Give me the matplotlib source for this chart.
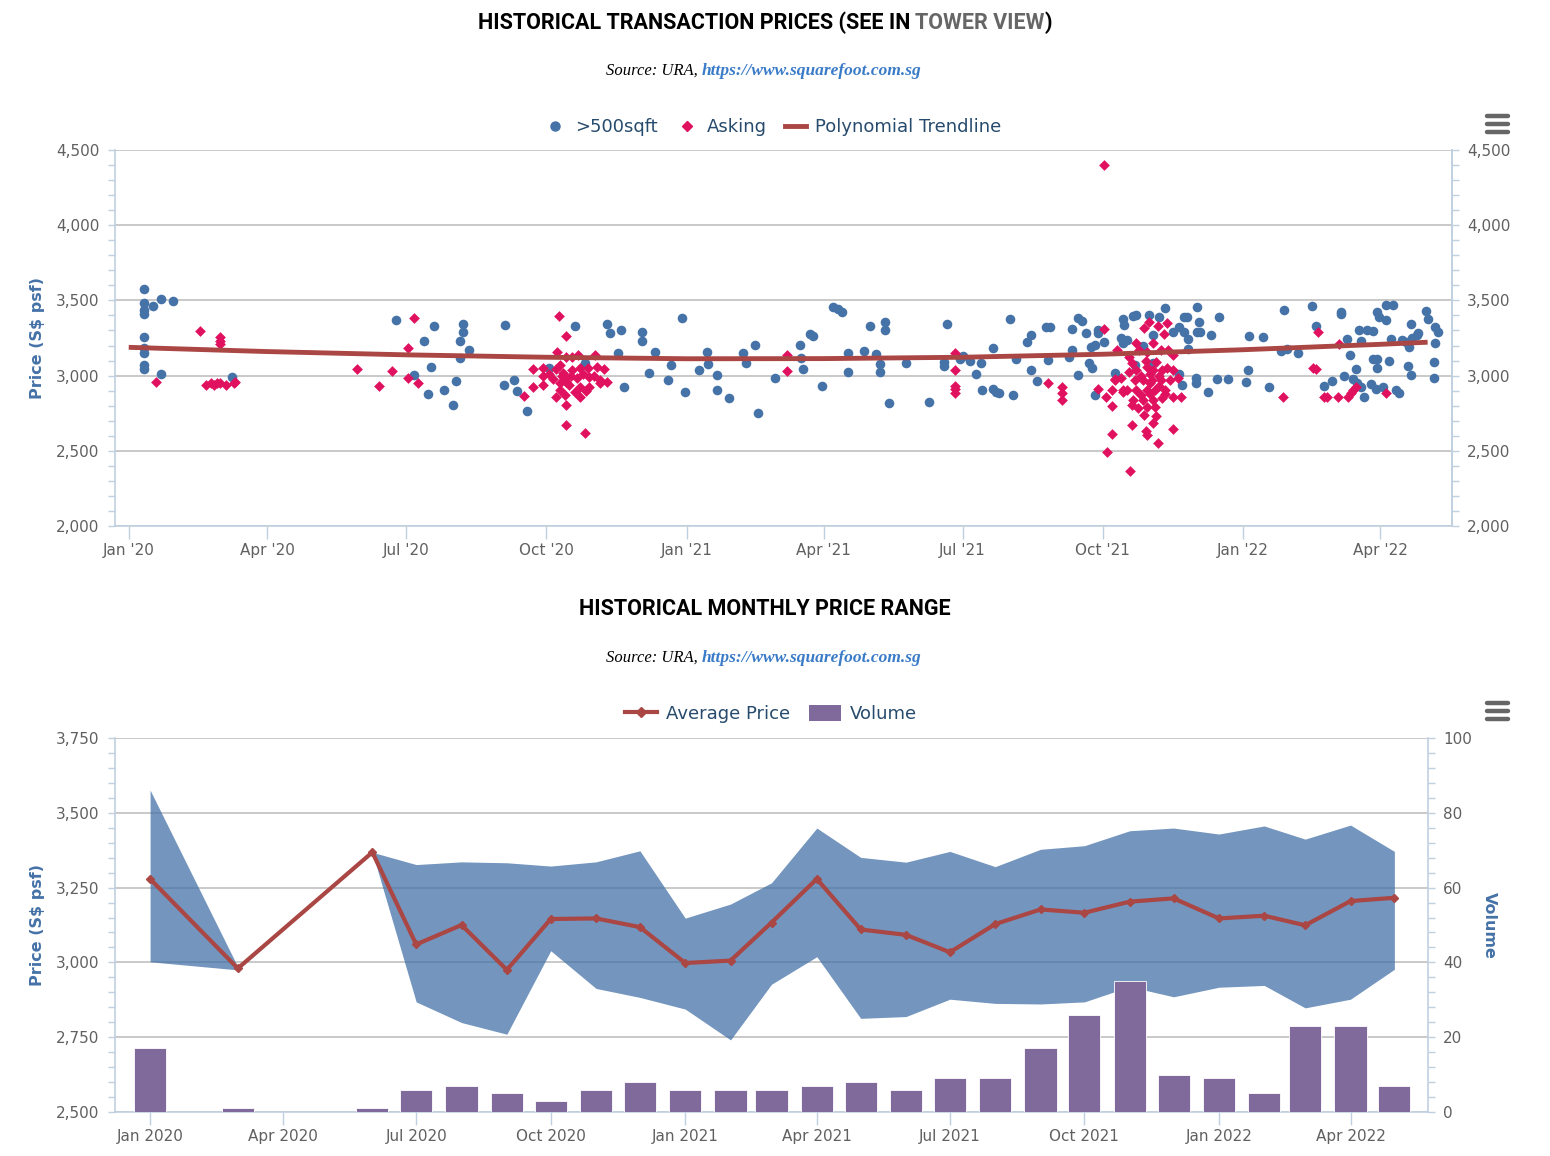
import numpy as np
import matplotlib
matplotlib.use('Agg')
import matplotlib.pyplot as plt
import matplotlib.dates as mdates
from matplotlib.ticker import FuncFormatter, MultipleLocator
from matplotlib.lines import Line2D
from matplotlib.patches import Patch
import pandas as pd

# ---------------- data (top chart: days since 2020-01-01, price S$ psf) ----------------
blue_day = [10, 10, 16, 21, 29, 10, 10, 10, 10, 10, 10, 10, 21, 68,
            175, 200, 194, 219, 219, 217, 223, 217, 198, 187, 196, 207, 213, 215, 247, 246, 253, 255, 261, 276,
            293, 299, 314, 316, 323, 321, 325, 337, 337, 345, 341, 356, 354, 365, 363, 374,
            379, 380, 386, 386, 394, 403, 405, 411, 413, 424, 440, 441, 442, 447, 449, 455, 462, 465, 468, 472,
            472, 482, 486, 490, 493, 493, 496, 496, 499, 510, 525, 537, 535, 535, 545, 547, 552, 559, 556, 567,
            560, 567, 569,
            571, 580, 578, 582, 589, 592, 592, 596, 602, 604, 603, 617, 619, 619, 623, 625, 628, 623, 630, 632,
            631, 634, 636, 636, 640, 634, 647, 652, 653, 659, 661, 651, 652, 655, 660, 665, 669, 676, 680, 672,
            672, 685, 689, 692, 694, 692, 702, 701, 701, 703, 695, 695, 689, 691, 700, 700, 708, 710, 714, 721, 715,
            758, 776, 795, 795, 779, 735, 744, 756, 760, 767, 734, 733, 748, 784, 789, 797, 805, 801, 799, 808,
            807, 812, 816, 816, 819, 819, 827, 828, 819, 820, 825, 825, 829, 803, 806, 808, 810, 815, 818, 823,
            831, 833, 839, 841, 835, 838, 842, 845, 846, 840, 841, 851, 852, 857, 859, 857, 856, 856]
blue_price = [3576, 3483, 3463, 3509, 3496, 3436, 3410, 3257, 3184, 3150, 3070, 3044, 3011, 2991,
              3370, 3330, 3230, 3343, 3290, 3230, 3170, 3117, 3057, 3004, 2878, 2904, 2805, 2964, 3336, 2938, 2971, 2898, 2765, 3051,
              3330, 3084, 3343, 3283, 3303, 3150, 2924, 3290, 3230, 3157, 3017, 3070, 2971, 2891, 3383, 3037,
              3157, 3077, 3004, 2904, 2851, 3150, 3084, 3203, 2751, 2984, 3203, 3117, 3044, 3277, 3263, 2931, 3456, 3443, 3423, 3150,
              3024, 3164, 3330, 3144, 3077, 3024, 3356, 3303, 2818, 3084, 2825, 3343, 3090, 3064, 3110, 3130, 3097, 3084, 3011, 3184,
              2904, 2911, 2891,
              2884, 2871, 3376, 3110, 3223, 3270, 3037, 2964, 3323, 3323, 3104, 3124, 3170, 3310, 3383, 3363, 3283, 3004, 3084, 3051,
              3190, 3203, 3303, 3283, 3223, 2871, 3017, 3376, 3336, 3396, 3403, 3250, 3217, 3237, 3070, 3197, 3403, 3390, 3450, 3270,
              3084, 3290, 3323, 3390, 3390, 3290, 3356, 3456, 3290, 3290, 3243, 3177, 3011, 2938, 2984, 2951, 2891, 3270, 2977, 2977, 3390,
              3436, 3463, 3423, 3410, 3330, 3263, 3257, 3164, 3177, 3150, 3037, 2957, 2924, 2931, 2964, 2997, 3044, 3137, 3243, 3230,
              3303, 3303, 3297, 3110, 3110, 3051, 3097, 3243, 3423, 3390, 3370, 3469, 3469, 2977, 2951, 2924, 2858, 2944, 2911, 2924,
              2904, 2884, 3064, 3004, 3237, 3223, 3250, 3270, 3283, 3190, 3343, 3430, 3376, 3323, 3290, 3217, 3090, 2984]

ask_day = [18, 47, 60, 60, 60, 51, 56, 60, 64, 69, 70, 54, 58,
           150, 164, 173, 183, 187, 183, 190, 259,
           282, 287, 281, 265, 265, 272, 272, 272, 280, 283, 287, 291, 295, 306, 287, 291, 296, 301, 307, 312,
           283, 287, 294, 302, 309, 314, 283, 286, 296, 302, 309, 280, 296, 287, 287, 299, 276, 285, 290, 298,
           305, 278, 289, 293, 300, 284,
           432, 432, 542, 542, 542, 542, 542,
           603, 612, 612, 612, 640, 640, 642, 636, 641, 645, 645, 657, 648, 647, 651, 645, 656, 658, 661, 656, 652,
           666, 669, 675, 681, 679, 672, 663, 668, 677, 682,
           685, 658, 661, 668, 672, 678, 681, 685, 660, 665,
           671, 677, 683, 688, 655, 661, 668, 673, 680, 685,
           659, 665, 672, 678, 662, 668, 673, 666, 674, 672,
           667, 668, 675, 685, 647, 652, 658,
           664, 670, 676, 670, 676, 664, 670, 680, 667, 674,
           690, 780, 794, 777, 779, 757, 784, 786, 793, 800, 802, 803, 805, 825]
ask_price = [2957, 3297, 3257, 3230, 3210, 2938, 2938, 2951, 2938, 2951, 2957, 2951, 2951,
             3044, 2931, 3031, 3184, 3383, 2984, 2951, 2864,
             3396, 3263, 3157, 3044, 2924, 3051, 2997, 2938, 3044, 3070, 3124, 3124, 3137, 3137, 2991, 3037, 3051, 3051, 3057, 3044,
             2951, 2957, 2984, 2991, 2971, 2957, 2904, 2871, 2924, 2924, 2951, 2858, 2858, 2805, 2672, 2618, 3010, 3020, 3000, 3010,
             3000, 2980, 2940, 2890, 2900, 3000,
             3137, 3031, 3150, 3037, 2931, 2911, 2884,
             2951, 2924, 2884, 2838, 4400, 3310, 2492, 2911, 2858, 2798, 2612, 2366, 3170, 2971, 2984, 2904, 3024, 2672, 3217, 3124, 2904,
             3316, 3356, 3330, 3350, 3277, 3217, 3170, 3157, 3170, 3170,
             3137, 3084, 3037, 3057, 3037, 3037, 3051, 3037, 2971, 2971,
             2971, 2971, 2971, 2984, 2904, 2904, 2904, 2904, 2904, 2858,
             2838, 2838, 2838, 2851, 2785, 2791, 2791, 2738, 2731, 2685,
             2632, 2605, 2552, 2645, 2977, 2891, 2805,
             3000, 3010, 3000, 2950, 2930, 2870, 2880, 2880, 3100, 3090,
             2858, 3290, 3210, 3051, 3044, 2858, 2858, 2858, 2858, 2858, 2884, 2904, 2924, 2884]

trend_day = [0, 90, 182, 274, 366, 456, 547, 639, 731, 821, 852]
trend_price = [3188, 3160, 3138, 3122, 3112, 3113, 3122, 3142, 3172, 3208, 3222]

# ---------------- data (bottom chart: monthly) ----------------
months = ['2020-01', '2020-03', '2020-06', '2020-07', '2020-08', '2020-09', '2020-10', '2020-11', '2020-12',
          '2021-01', '2021-02', '2021-03', '2021-04', '2021-05', '2021-06', '2021-07', '2021-08', '2021-09',
          '2021-10', '2021-11', '2021-12', '2022-01', '2022-02', '2022-03', '2022-04', '2022-05']
avg_price = [3279, 2980, 3368, 3060, 3125, 2975, 3145, 3147, 3118, 2998, 3006, 3133, 3279, 3110, 3092,
             3034, 3128, 3177, 3166, 3203, 3214, 3147, 3156, 3124, 3205, 3216]
range_high = [3576, 2985, 3368, 3327, 3336, 3333, 3322, 3336, 3373, 3148, 3195, 3266, 3449, 3351, 3335,
              3371, 3320, 3378, 3390, 3440, 3449, 3429, 3456, 3412, 3459, 3371]
range_low = [3002, 2975, 3368, 2868, 2799, 2760, 3039, 2913, 2883, 2844, 2741, 2927, 3019, 2813, 2819,
             2877, 2863, 2861, 2868, 2919, 2885, 2917, 2923, 2848, 2877, 2977]
volume = [17, 1, 1, 6, 7, 5, 3, 6, 8, 6, 6, 6, 7, 8, 6, 9, 9, 17, 26, 35, 10, 9, 5, 23, 23, 7]

# ---------------- styling ----------------
W, H = 1550, 1156
BLUE = '#4572A7'
RED = '#AA4643'
PINK = '#E0115F'
PURPLE = '#80699B'
AXCOL = '#C0D0E0'
GRID = '#C0C0C0'
TICKTXT = '#606060'
LEGTXT = '#274B6D'
BASE = pd.Timestamp('2020-01-01')


def to_dates(days):
    return BASE + pd.to_timedelta(np.array(days, dtype=float), unit='D')


def fx(px):
    return px / W


def fy(py):
    return 1 - py / H


fig = plt.figure(figsize=(W / 100, H / 100), dpi=100)
fig.patch.set_facecolor('white')

thousands = FuncFormatter(lambda v, p: f'{int(round(v)):,}')


def style_axis(ax):
    ax.spines['top'].set_visible(False)
    for s in ['left', 'right', 'bottom']:
        ax.spines[s].set_color(AXCOL)
        ax.spines[s].set_linewidth(1.2)
    ax.tick_params(axis='y', which='both', colors=AXCOL, labelcolor=TICKTXT, labelsize=11,
                   length=5, width=1, pad=6)
    ax.tick_params(axis='x', which='major', colors=AXCOL, labelcolor=TICKTXT, labelsize=11,
                   length=9, width=1, pad=3)
    ax.tick_params(axis='x', which='minor', length=0)


# ================= TOP CHART =================
ax1 = fig.add_axes([fx(115), fy(526), fx(1452 - 115), (526 - 150) / H])
ax1.set_facecolor('white')
ax1.yaxis.grid(True, color=GRID, lw=1.2)
ax1.set_axisbelow(True)
bd = to_dates(blue_day)
ad = to_dates(ask_day)
ax1.scatter(bd, blue_price, s=48, c=BLUE, marker='o', linewidths=0, zorder=3)
ax1.scatter(ad, ask_price, s=30, c=PINK, marker='D', linewidths=0, zorder=4)
ax1.plot(to_dates(trend_day), trend_price, color=RED, lw=3.5, zorder=5, solid_capstyle='butt')
ax1.set_ylim(2000, 4500)
ax1.set_xlim(to_dates([-9])[0], to_dates([868])[0])
ax1.yaxis.set_major_locator(MultipleLocator(500))
ax1.yaxis.set_minor_locator(MultipleLocator(100))
ax1.yaxis.set_major_formatter(thousands)
ax1.xaxis.set_major_locator(mdates.MonthLocator(bymonth=[1, 4, 7, 10]))
ax1.xaxis.set_major_formatter(mdates.DateFormatter("%b '%y"))
style_axis(ax1)
ax1.set_ylabel('Price (S$ psf)', color=BLUE, fontsize=11.5, fontweight='bold', labelpad=8)
ax1r = ax1.twinx()
ax1r.set_ylim(2000, 4500)
ax1r.yaxis.set_major_locator(MultipleLocator(500))
ax1r.yaxis.set_minor_locator(MultipleLocator(100))
ax1r.yaxis.set_major_formatter(thousands)
style_axis(ax1r)
ax1r.spines['left'].set_visible(False)
ax1r.spines['bottom'].set_visible(False)

leg1 = [Line2D([], [], marker='o', color=BLUE, ls='None', markersize=6.5),
        Line2D([], [], marker='D', color=PINK, ls='None', markersize=5),
        Line2D([], [], color=RED, lw=3.5)]
fig.legend(leg1, ['>500sqft', 'Asking', 'Polynomial Trendline'], loc='center',
           bbox_to_anchor=(fx(773), fy(127)), ncol=3, frameon=False, fontsize=13,
           labelcolor=LEGTXT, handlelength=1.2, handletextpad=0.5, columnspacing=1.0)

# ================= BOTTOM CHART =================
ax2 = fig.add_axes([fx(115), fy(1112), fx(1428 - 115), (1112 - 738) / H])
ax2.set_facecolor('white')
ax2.yaxis.grid(True, color=GRID, lw=1.2)
ax2.set_axisbelow(True)
md = pd.to_datetime(months)
ax2.fill_between(md, range_low, range_high, color=BLUE, alpha=0.75, lw=0, zorder=2)
ax2.set_ylim(2500, 3750)
ax2.set_xlim(to_dates([-24])[0], to_dates([874])[0])
ax2.yaxis.set_major_locator(MultipleLocator(250))
ax2.yaxis.set_minor_locator(MultipleLocator(50))
ax2.yaxis.set_major_formatter(thousands)
ax2.xaxis.set_major_locator(mdates.MonthLocator(bymonth=[1, 4, 7, 10]))
ax2.xaxis.set_major_formatter(mdates.DateFormatter('%b %Y'))
style_axis(ax2)
ax2.spines['right'].set_visible(False)
ax2.set_ylabel('Price (S$ psf)', color=BLUE, fontsize=11.5, fontweight='bold', labelpad=8)

ax2v = ax2.twinx()
ax2v.bar(md, volume, width=22, color=PURPLE, edgecolor='white', linewidth=0.6, zorder=3)
ax2v.set_ylim(0, 100)
ax2v.yaxis.set_major_locator(MultipleLocator(20))
ax2v.yaxis.set_minor_locator(MultipleLocator(4))
style_axis(ax2v)
ax2v.spines['left'].set_visible(False)
ax2v.spines['bottom'].set_visible(False)
ax2v.set_ylabel('Volume', color=BLUE, fontsize=11.5, fontweight='bold', rotation=270, labelpad=18)

ax2l = ax2.twinx()
ax2l.plot(md, avg_price, color=RED, lw=3, marker='D', markersize=4.5, zorder=5)
ax2l.set_ylim(2500, 3750)
ax2l.axis('off')

leg2 = [Line2D([], [], color=RED, lw=3, marker='D', markersize=5),
        Patch(facecolor=PURPLE, edgecolor='none')]
fig.legend(leg2, ['Average Price', 'Volume'], loc='center',
           bbox_to_anchor=(fx(771), fy(714)), ncol=2, frameon=False, fontsize=13,
           labelcolor=LEGTXT, handlelength=1.8, handletextpad=0.5, columnspacing=1.0,
           handleheight=1.0)

# ================= TITLES =================
renderer = fig.canvas.get_renderer()


def multi_text(cx_px, base_px, parts, gaps):
    texts = []
    for s, color, kw in parts:
        t = fig.text(0, fy(base_px), s, color=color, va='baseline', ha='left', **kw)
        texts.append(t)
    widths = [t.get_window_extent(renderer).width for t in texts]
    total = sum(widths) + sum(gaps)
    x = cx_px - total / 2
    for i, (t, w) in enumerate(zip(texts, widths)):
        t.set_x(fx(x))
        x += w + (gaps[i] if i < len(gaps) else 0)


TFONT = dict(family=['Roboto', 'DejaVu Sans'], fontweight='bold', fontsize=15.5)
SFONT = dict(family=['Liberation Serif', 'DejaVu Serif'], style='italic', fontsize=12)
SFONT_B = dict(family=['Liberation Serif', 'DejaVu Serif'], style='italic', fontweight='bold', fontsize=12.5)
LINK = '#3A7BC8'

multi_text(765, 29, [('HISTORICAL TRANSACTION PRICES (SEE IN', 'black', TFONT),
                     ('TOWER VIEW', '#666666', TFONT),
                     (')', 'black', TFONT)], [5, 0])
multi_text(764, 75, [('Source: URA,', 'black', SFONT),
                     ('https://www.squarefoot.com.sg', LINK, SFONT_B)], [4])
fig.text(fx(765), fy(615), 'HISTORICAL MONTHLY PRICE RANGE', color='black', va='baseline',
         ha='center', **TFONT)
multi_text(764, 662, [('Source: URA,', 'black', SFONT),
                      ('https://www.squarefoot.com.sg', LINK, SFONT_B)], [4])

# ================= menu icons =================
for yc in (124, 711):
    for dy in (-8, 0, 8):
        fig.add_artist(Line2D([fx(1487), fx(1508)], [fy(yc + dy), fy(yc + dy)], color='#666666',
                              lw=3.2, solid_capstyle='round', transform=fig.transFigure))

fig.savefig('out.png', dpi=100, facecolor='white')
